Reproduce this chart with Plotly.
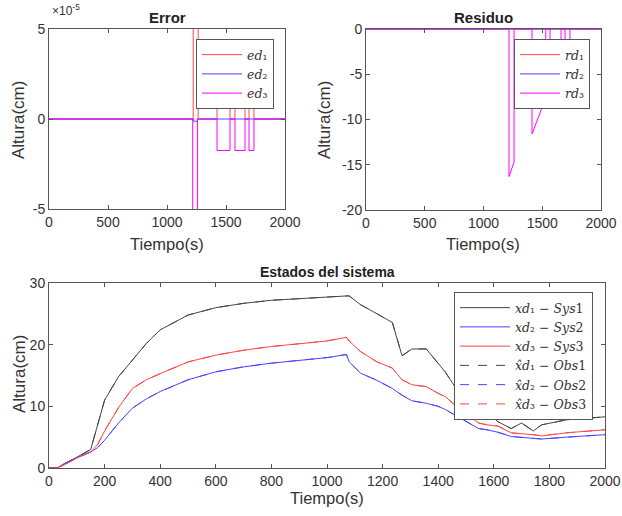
import plotly.graph_objects as go

# ---------------- data ----------------
# Error (values in units of 1e-5 cm)
t_ed1 = [0, 1222, 1222, 1264, 1264, 1424, 1424, 1534, 1534, 1576, 1576, 1661, 1661, 1695, 1695, 1737, 1737, 2000]
ed1 = [0, 0, 10, 10, 0, 0, 1.8, 1.8, 0, 0, 1.8, 1.8, 0, 0, 1.8, 1.8, 0, 0]
t_ed2 = [0, 1225, 1225, 1258, 1258, 2000]
ed2 = [0, 0, -0.12, -0.12, 0, 0]
t_ed3 = [0, 1218, 1218, 1258, 1258, 1424, 1424, 1534, 1534, 1576, 1576, 1661, 1661, 1695, 1695, 1737, 1737, 2000]
ed3 = [0, 0, -10, -10, 0, 0, -1.75, -1.75, 0, 0, -1.75, -1.75, 0, 0, -1.75, -1.75, 0, 0]

# Residuo
t_rd = [0, 2000]
rd1 = [0, 0]
rd2 = [0, 0]
t_rd3 = [0, 1217, 1217, 1260, 1260, 1413, 1413, 1530, 1530, 1566, 1566, 1660, 1660, 1694, 1694, 1736, 1736, 2000]
rd3 = [0, 0, -16.3, -14.7, 0, 0, -11.6, -7.6, 0, 0, -5.0, -2.5, 0, 0, -3.0, -2.0, 0, 0]

# Estados del sistema
t_x = [0, 30, 50, 100, 150, 175, 200, 250, 300, 350, 400, 500, 600, 700, 800, 900, 1000,
       1070, 1080, 1120, 1180, 1235, 1270, 1305, 1357, 1400, 1425, 1460, 1507, 1545, 1575,
       1615, 1663, 1700, 1742, 1772, 1860, 2000]
xd1 = [0, 0, 0.5, 1.8, 3.0, 7.0, 11.0, 14.8, 17.5, 20.2, 22.4, 24.8, 26.0, 26.7, 27.2, 27.5, 27.8,
       27.9, 27.9, 26.5, 25.0, 23.6, 18.2, 19.3, 19.3, 17.0, 15.6, 13.2, 10.5, 8.75, 9.1,
       7.5, 6.4, 7.3, 6.0, 7.0, 7.8, 8.3]
xd2 = [0, 0, 0.6, 1.7, 2.6, 3.3, 4.5, 7.3, 9.7, 11.2, 12.4, 14.3, 15.6, 16.4, 17.0, 17.5, 17.9,
       18.4, 17.2, 15.4, 14.2, 12.9, 11.8, 10.9, 10.5, 10.0, 9.5, 8.6, 7.4, 6.4, 6.2,
       5.8, 5.1, 5.0, 4.8, 4.7, 5.0, 5.4]
xd3 = [0, 0, 0.4, 1.6, 2.6, 3.8, 6.0, 9.8, 12.9, 14.3, 15.3, 17.2, 18.3, 19.1, 19.7, 20.2, 20.6,
       21.2, 20.6, 18.9, 17.2, 16.2, 14.3, 13.5, 13.2, 12.1, 11.6, 10.2, 8.6, 7.3, 7.0,
       6.8, 5.7, 5.6, 5.4, 5.2, 5.7, 6.2]

names_err = ["<i>ed</i>₁", "<i>ed</i>₂", "<i>ed</i>₃"]
names_res = ["<i>rd</i>₁", "<i>rd</i>₂", "<i>rd</i>₃"]
names_sys = ["<i>xd</i>₁ − <i>Sys</i>1", "<i>xd</i>₂ − <i>Sys</i>2", "<i>xd</i>₃ − <i>Sys</i>3"]
names_obs = ["<i>x̂d</i>₁ − <i>Obs</i>1", "<i>x̂d</i>₂ − <i>Obs</i>2", "<i>x̂d</i>₃ − <i>Obs</i>3"]

err_ticks = [-5, 0, 5]
err_ticktext = ["-5", "0", "5"]
res_ticks = [-20, -15, -10, -5, 0]
res_ticktext = ["-20", "-15", "-10", "-5", "0"]
top_xticks = [0, 500, 1000, 1500, 2000]
bot_xticks = [0, 200, 400, 600, 800, 1000, 1200, 1400, 1600, 1800, 2000]
bot_yticks = [0, 10, 20, 30]

# ---------------- style ----------------
RED = "rgb(255,70,70)"
BLUE = "rgb(70,70,255)"
MAG = "rgb(255,0,255)"
BLK = "rgb(70,70,70)"
AX = "#555555"
TXT = "#333333"
FONT = "Liberation Sans, Arial, sans-serif"
SERIF = "DejaVu Serif, Liberation Serif, serif"

fig = go.Figure()

def line(x, y, color, name, xa, ya, legend, dash="solid"):
    fig.add_trace(go.Scatter(x=x, y=y, mode="lines", name=name,
                             line=dict(color=color, width=1, dash=dash),
                             xaxis=xa, yaxis=ya, legend=legend))

line(t_ed1, ed1, RED, names_err[0], "x", "y", "legend")
line(t_ed2, ed2, BLUE, names_err[1], "x", "y", "legend")
line(t_ed3, ed3, MAG, names_err[2], "x", "y", "legend")

line(t_rd, rd1, RED, names_res[0], "x2", "y2", "legend2")
line(t_rd, rd2, BLUE, names_res[1], "x2", "y2", "legend2")
line(t_rd3, rd3, MAG, names_res[2], "x2", "y2", "legend2")

line(t_x, xd1, BLK, names_sys[0], "x3", "y3", "legend3")
line(t_x, xd2, BLUE, names_sys[1], "x3", "y3", "legend3")
line(t_x, xd3, RED, names_sys[2], "x3", "y3", "legend3")
line(t_x, xd1, BLK, names_obs[0], "x3", "y3", "legend3", dash="dash")
line(t_x, xd2, BLUE, names_obs[1], "x3", "y3", "legend3", dash="dash")
line(t_x, xd3, RED, names_obs[2], "x3", "y3", "legend3", dash="dash")

W, H = 622, 516
def px(v): return v / W
def py(v): return 1 - v / H

axis_common = dict(showline=True, linecolor=AX, linewidth=1, mirror="ticks", ticks="inside",
                   ticklen=4, tickcolor=AX, showgrid=False, zeroline=False, automargin=False,
                   tickfont=dict(family=FONT, size=14, color=TXT))

legend_common = dict(bgcolor="white", bordercolor=AX, borderwidth=1,
                     font=dict(family=SERIF, size=12.5, color=TXT),
                     tracegroupgap=0, xanchor="right", yanchor="top")

fig.update_layout(
    width=W, height=H, margin=dict(l=0, r=0, t=0, b=0, autoexpand=False),
    plot_bgcolor="white", paper_bgcolor="white",
    xaxis=dict(domain=[px(49), px(285)], range=[0, 2000], tickvals=top_xticks, anchor="y", **axis_common),
    yaxis=dict(domain=[py(209), py(29)], range=[-5, 5], tickvals=err_ticks, ticktext=err_ticktext,
               anchor="x", **axis_common),
    xaxis2=dict(domain=[px(366), px(601)], range=[0, 2000], tickvals=top_xticks, anchor="y2", **axis_common),
    yaxis2=dict(domain=[py(210), py(29)], range=[-20, 0], tickvals=res_ticks, ticktext=res_ticktext,
                anchor="x2", **axis_common),
    xaxis3=dict(domain=[px(49), px(605)], range=[0, 2000], tickvals=bot_xticks, anchor="y3", **axis_common),
    yaxis3=dict(domain=[py(468), py(283)], range=[0, 30], tickvals=bot_yticks, anchor="x3", **axis_common),
    legend=dict(x=px(274), y=py(39), itemwidth=40, **legend_common),
    legend2=dict(x=px(590), y=py(39), itemwidth=40, **legend_common),
    legend3=dict(x=px(593), y=py(292), itemwidth=50, **legend_common),
    showlegend=True,
)

def ann(text, x, y, size=14, bold=False, angle=0, xanchor="center", family=FONT):
    fig.add_annotation(text=f"<b>{text}</b>" if bold else text, x=px(x), y=py(y),
                       xref="paper", yref="paper", showarrow=False, textangle=angle,
                       xanchor=xanchor, yanchor="middle",
                       font=dict(family=family, size=size, color="#222222" if bold else TXT))

ann("Error", 167, 17, size=15, bold=True)
ann("Residuo", 483, 17, size=15, bold=True)
ann("Estados del sistema", 327, 272, size=14, bold=True)
ann("Tiempo(s)", 167, 244, size=16.5)
ann("Tiempo(s)", 483, 244, size=16.5)
ann("Tiempo(s)", 327, 498, size=16.5)
ann("Altura(cm)", 19, 120, size=17, angle=-90)
ann("Altura(cm)", 325, 120, size=17, angle=-90)
ann("Altura(cm)", 19, 374, size=17, angle=-90)
ann("×10<sup>-5</sup>", 50, 10, size=12, xanchor="left")

fig.write_html("out.html", config={"displayModeBar": False},
               post_script="document.body.style.margin='0';document.body.style.overflow='hidden';")
